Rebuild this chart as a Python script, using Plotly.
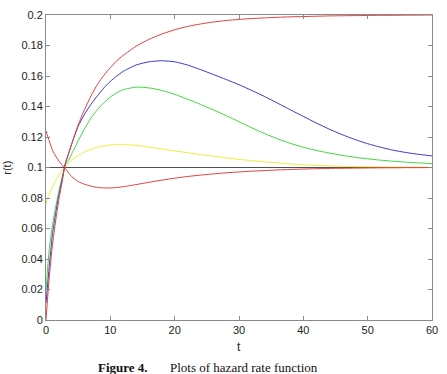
import plotly.graph_objects as go

t = [0, 0.5, 1, 1.5, 2, 2.5, 3, 3.5, 4, 5, 6, 7, 8, 9, 10, 11, 12,
     14, 16, 18, 20, 22, 24, 26, 28, 30, 32, 34, 36, 38, 40, 42, 44, 46, 48, 50, 52, 54, 56, 58, 60]

red_up = [0.0, 0.028, 0.049, 0.065, 0.079, 0.0905, 0.1025, 0.109, 0.1155, 0.128, 0.138, 0.147, 0.1545, 0.1605, 0.1655, 0.170, 0.1735,
          0.1795, 0.184, 0.1875, 0.1903, 0.1925, 0.1941, 0.1954, 0.1964, 0.1971, 0.1977, 0.1981, 0.1985, 0.1988, 0.199, 0.1992, 0.1994, 0.1995, 0.1996, 0.1997, 0.1998, 0.1998, 0.1999, 0.1999, 0.2]
blue = [0.011, 0.035, 0.056, 0.070, 0.082, 0.092, 0.1025, 0.109, 0.1155, 0.127, 0.135, 0.1415, 0.147, 0.1522, 0.1565, 0.160, 0.163,
        0.1672, 0.1693, 0.170, 0.1693, 0.1672, 0.1642, 0.161, 0.1577, 0.1543, 0.1505, 0.1465, 0.1422, 0.1378, 0.1335, 0.1292, 0.1252, 0.1216, 0.1184, 0.1156, 0.1133, 0.1113, 0.1098, 0.1086, 0.1076]
green = [0.02, 0.046, 0.062, 0.074, 0.0845, 0.0935, 0.1015, 0.1048, 0.109, 0.1175, 0.1255, 0.1325, 0.138, 0.1425, 0.1462, 0.149, 0.151,
         0.1527, 0.1522, 0.1505, 0.148, 0.1448, 0.1414, 0.1378, 0.134, 0.130, 0.126, 0.1222, 0.1188, 0.1158, 0.1133, 0.1112, 0.1095, 0.108, 0.1067, 0.1057, 0.1048, 0.1041, 0.1035, 0.103, 0.1025]
yellow = [0.076, 0.0825, 0.0875, 0.0915, 0.095, 0.098, 0.1005, 0.1028, 0.1048, 0.1078, 0.1102, 0.112, 0.1133, 0.1142, 0.1148, 0.115, 0.115,
          0.1145, 0.1134, 0.1121, 0.1109, 0.1097, 0.1085, 0.1074, 0.1063, 0.1053, 0.1045, 0.1037, 0.103, 0.1023, 0.1018, 0.1014, 0.1011, 0.1008, 0.1006, 0.1005, 0.1004, 0.1003, 0.1002, 0.1002, 0.1001]
red_down = [0.124, 0.1175, 0.1115, 0.1075, 0.1043, 0.1015, 0.0993, 0.0965, 0.094, 0.0908, 0.089, 0.0878, 0.087, 0.0866, 0.0866, 0.0869, 0.0874,
            0.0888, 0.0903, 0.0917, 0.093, 0.0941, 0.095, 0.0958, 0.0965, 0.0971, 0.0976, 0.098, 0.0984, 0.0987, 0.099, 0.0992, 0.0994, 0.0995, 0.0996, 0.0997, 0.0998, 0.0998, 0.0999, 0.0999, 0.1]
baseline_t = [0, 60]
baseline_r = [0.1, 0.1]

x_ticks = [0, 10, 20, 30, 40, 50, 60]
x_ticklabels = ["0", "10", "20", "30", "40", "50", "60"]
y_ticks = [0, 0.02, 0.04, 0.06, 0.08, 0.1, 0.12, 0.14, 0.16, 0.18, 0.2]
y_ticklabels = ["0", "0.02", "0.04", "0.06", "0.08", "0.1", "0.12", "0.14", "0.16", "0.18", "0.2"]

fig = go.Figure()
fig.add_trace(go.Scatter(x=baseline_t, y=baseline_r, mode="lines", line=dict(color="#505050", width=1.2)))
series = [
    (yellow, "#eded3a"),
    (green, "#3ed83e"),
    (blue, "#3b3bcc"),
    (red_down, "#e0403e"),
    (red_up, "#e0403e"),
]
for ys, c in series:
    fig.add_trace(go.Scatter(x=t, y=ys, mode="lines", line=dict(color=c, width=1, shape="spline", smoothing=0.6)))

font = dict(family="Liberation Sans, Arial, sans-serif", size=11, color="#222222")
axis_common = dict(showline=True, linecolor="#8a8a8a", linewidth=1, mirror="ticks", ticks="inside",
                   ticklen=4, tickcolor="#8a8a8a", showgrid=False, zeroline=False, tickfont=font)

fig.update_layout(
    width=447, height=374,
    margin=dict(l=46, r=9, t=10, b=54),
    paper_bgcolor="white", plot_bgcolor="white",
    showlegend=False,
    xaxis=dict(range=[0, 60], tickvals=x_ticks, ticktext=x_ticklabels, **axis_common),
    yaxis=dict(range=[0, 0.2], tickvals=y_ticks, ticktext=y_ticklabels, **axis_common),
)

fig.add_annotation(text="t", xref="paper", yref="paper", x=0.5, y=-0.058, xanchor="center", yanchor="top",
                   showarrow=False, font=dict(family="Liberation Sans, Arial, sans-serif", size=12, color="#222222"))
fig.add_annotation(text="r(t)", xref="paper", yref="paper", x=-0.103, y=0.5, xanchor="center", yanchor="middle",
                   textangle=-90, showarrow=False, font=dict(family="Liberation Sans, Arial, sans-serif", size=11, color="#222222"))
fig.add_annotation(text="<b>Figure 4.</b>", xref="paper", yref="paper", x=(97 - 46) / 392, y=-0.124,
                   xanchor="left", yanchor="top", showarrow=False,
                   font=dict(family="Liberation Serif, Times New Roman, serif", size=13, color="#111111"))
fig.add_annotation(text="Plots of hazard rate function", xref="paper", yref="paper", x=(170 - 46) / 392, y=-0.124,
                   xanchor="left", yanchor="top", showarrow=False,
                   font=dict(family="Liberation Serif, Times New Roman, serif", size=13, color="#111111"))

fig.write_html("out.html")
